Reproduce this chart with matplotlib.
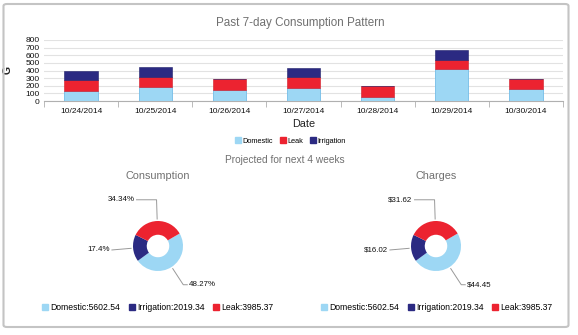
import numpy as np
import matplotlib
matplotlib.use("Agg")
import matplotlib.pyplot as plt
from matplotlib.patches import FancyBboxPatch
from matplotlib.lines import Line2D

plt.rcParams['font.family'] = ['Liberation Sans', 'DejaVu Sans']

# bar data
dates = ['10/24/2014', '10/25/2014', '10/26/2014', '10/27/2014',
         '10/28/2014', '10/29/2014', '10/30/2014']
domestic = [131, 179, 144, 175, 57, 420, 153]
leak = [140, 140, 140, 135, 140, 122, 131]
irrigation = [118, 127, 0, 123, 0, 127, 0]

# donut data
pie_names = ['Domestic', 'Irrigation', 'Leak']
pie_values = [5602.54, 2019.34, 3985.37]
pct_labels = ['48.27%', '17.4%', '34.34%']
charge_labels = ['$44.45', '$16.02', '$31.62']

c_dom = '#9dd7f4'
c_leak = '#ec2330'
c_irr = '#2b2a82'
colors = [c_dom, c_irr, c_leak]

W, H = 578, 335
fig = plt.figure(figsize=(W / 100, H / 100), dpi=100)


def px_axes(x0, y0, x1, y1):
    # pixel box (top-left origin) -> figure axes
    return fig.add_axes([x0 / W, 1 - y1 / H, (x1 - x0) / W, (y1 - y0) / H])


# outer frame
fig.patches.append(FancyBboxPatch((3.5 / W, 1 - 327 / H), 565 / W, 323 / H,
                                  boxstyle='round,pad=0,rounding_size=0.006',
                                  transform=fig.transFigure, fill=False,
                                  edgecolor='#c4c4c4', linewidth=1.5))

# ---- stacked bars ----
ax = px_axes(44, 40, 563, 101)
x = np.arange(len(dates))
bw = 0.45
ax.bar(x, domestic, bw, color=c_dom, edgecolor='#74bde8', linewidth=0.6, zorder=3)
ax.bar(x, leak, bw, bottom=domestic, color=c_leak, edgecolor='#d01a26',
       linewidth=0.4, zorder=3)
bottoms = [d + l for d, l in zip(domestic, leak)]
ax.bar(x, irrigation, bw, bottom=bottoms, color=c_irr, edgecolor='#1f1f6a',
       linewidth=0.4, zorder=3)
ax.set_xlim(-0.5, len(dates) - 0.5)
ax.set_ylim(0, 800)
ax.set_yticks(range(0, 801, 100))
ax.yaxis.grid(True, color='#e2e2e2', linewidth=0.8, zorder=0)
ax.set_xticks(x)
ax.set_xticklabels(dates, fontsize=6, color='#111111')
ax.set_xticks(np.arange(-0.5, len(dates)), minor=True)
ax.tick_params(axis='x', which='major', length=0, pad=5)
ax.tick_params(axis='x', which='minor', length=4, color='#b0b0b0', direction='out')
ax.tick_params(axis='y', length=0, labelsize=6, pad=3, labelcolor='#111111')
for s in ['top', 'right', 'left']:
    ax.spines[s].set_visible(False)
ax.spines['bottom'].set_color('#b0b0b0')
ax.set_ylabel('G', fontsize=7.5, fontweight='bold', labelpad=9, color='#222222')
ax.set_xlabel('Date', fontsize=7.8, labelpad=3, color='#222222')

fig.text(300 / W, 1 - 23 / H, 'Past 7-day Consumption Pattern', ha='center',
         va='center', fontsize=8.4, color='#707070')

handles = [Line2D([], [], marker='s', linestyle='', markersize=4, color=c)
           for c in [c_dom, c_leak, c_irr]]
fig.legend(handles, ['Domestic', 'Leak', 'Irrigation'], loc='center',
           bbox_to_anchor=(290 / W, 1 - 141 / H), ncol=3, frameon=False,
           fontsize=5.3, handletextpad=0.1, columnspacing=0.8, handlelength=1)

fig.text(285 / W, 1 - 160 / H, 'Projected for next 4 weeks', ha='center',
         va='center', fontsize=7.3, color='#707070')


# ---- donuts ----
def donut(cx, cy, title, labels, leg_cx):
    r = 25
    a = px_axes(cx - 70, cy - 70, cx + 70, cy + 70)
    wedges, _ = a.pie(pie_values, colors=colors, startangle=30,
                      counterclock=False, radius=1,
                      wedgeprops=dict(width=0.55, linewidth=0))
    a.set_xlim(-70 / r, 70 / r)
    a.set_ylim(-70 / r, 70 / r)
    a.set_aspect('equal')
    a.axis('off')
    ext = [0.16, 0.0, -0.8]
    for w, lab, e in zip(wedges, labels, ext):
        ang = np.deg2rad((w.theta1 + w.theta2) / 2)
        c, s = np.cos(ang), np.sin(ang)
        p0 = (1.08 * c, 1.08 * s)
        p1 = (1.85 * c, 1.85 * s)
        side = 1 if c > 0.05 else -1
        p2 = (p1[0] + e, p1[1])
        a.plot([p0[0], p1[0], p2[0]], [p0[1], p1[1], p2[1]],
               color='#999999', linewidth=0.7)
        a.text(p2[0] + side * 0.08, p2[1], lab, ha='left' if side > 0 else 'right',
               va='center', fontsize=5.7, color='#111111')
    fig.text(cx / W, 1 - 176 / H, title, ha='center', va='center',
             fontsize=7.8, color='#707070')
    hs = [Line2D([], [], marker='s', linestyle='', markersize=4.5, color=c)
          for c in colors]
    names = ['%s:%.2f' % (n, v) for n, v in zip(pie_names, pie_values)]
    fig.legend(hs, names, loc='center', bbox_to_anchor=(leg_cx / W, 1 - 308 / H),
               ncol=3, frameon=False, fontsize=6.2, handletextpad=0.1,
               columnspacing=0.8, handlelength=1)


donut(158, 246, 'Consumption', pct_labels, 157)
donut(436, 246, 'Charges', charge_labels, 436)

fig.savefig('out.png', dpi=100)
